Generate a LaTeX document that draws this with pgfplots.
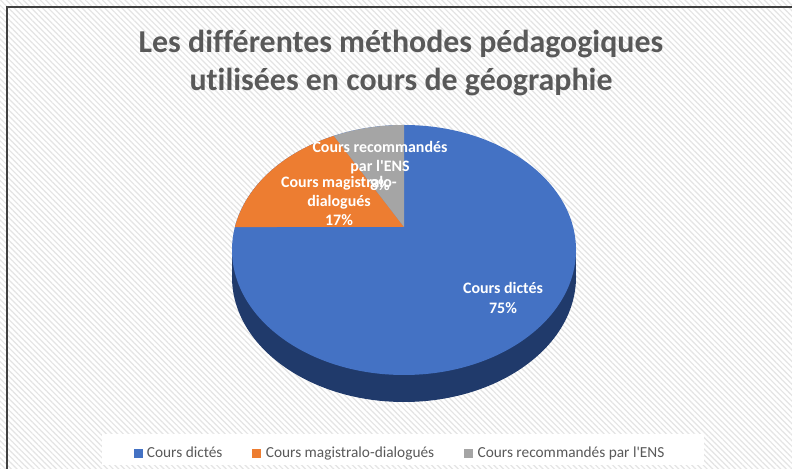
\documentclass[border=0pt]{standalone}
\usepackage{pgfplots}
\pgfplotsset{compat=1.18}
\usepackage{pgfplotstable}
\usepackage{fontspec}
\setmainfont{Carlito}[Ligatures=NoCommon]
\usetikzlibrary{patterns.meta}
\definecolor{cBlue}{HTML}{4472C4}
\definecolor{cOrange}{HTML}{ED7D31}
\definecolor{cGray}{HTML}{A5A5A5}
\definecolor{cSide}{HTML}{203A6B}
\definecolor{titlegray}{HTML}{595959}
\definecolor{bgstripe}{HTML}{E4E4E4}

\pgfplotstableread{
label value
dictes 75
magistralo 17
ens 8
}\piedata

% parametric angle on the projected (perspective) ellipse for a pie angle
\newcommand{\phiof}[2]{%
  \pgfmathsetmacro{\den}{1+0.184*sin(#1)}%
  \pgfmathsetmacro{\Xp}{169.1*cos(#1)/\den}%
  \pgfmathsetmacro{\Yp}{120.8*sin(#1)/\den}%
  \pgfmathsetmacro#2{atan2((\Yp+23)/125,\Xp/172)}}

\begin{document}
\begin{tikzpicture}[x=1bp,y=1bp]
\fill[white] (0,0) rectangle (792,469);
\fill[pattern={Lines[angle=-45,distance=4bp,line width=1.2bp]}, pattern color=bgstripe] (0,0) rectangle (792,469);
\useasboundingbox (0,0) rectangle (792,469);
\draw[line width=2bp, color=black!75] (7,0) -- (7,461.5) -- (792,461.5);
\fill[white] (102,4) rectangle (704,35);

\pgfplotstablegetelem{0}{value}\of\piedata \pgfmathsetmacro{\va}{\pgfplotsretval}
\pgfplotstablegetelem{1}{value}\of\piedata \pgfmathsetmacro{\vb}{\pgfplotsretval}
\pgfplotstablegetelem{2}{value}\of\piedata \pgfmathsetmacro{\vc}{\pgfplotsretval}
\pgfmathsetmacro{\tA}{90-3.6*\va}
\pgfmathsetmacro{\tB}{\tA-3.6*\vb}
\pgfmathsetmacro{\tC}{\tB-3.6*\vc}
\phiof{\tA}{\pa}
\phiof{\tB}{\pb}
\phiof{\tC}{\pc}

\node[font=\fontsize{32}{38}\selectfont\bfseries, text=titlegray] at (401,425) {Les différentes méthodes pédagogiques};
\node[font=\fontsize{32}{38}\selectfont\bfseries, text=titlegray] at (401,387) {utilisées en cours de géographie};

\begin{axis}[at={(0,0)}, anchor=south west, x=1bp, y=1bp,
  xmin=0, xmax=792, ymin=0, ymax=469, hide axis, clip=false,
  legend columns=-1,
  legend style={draw=none, fill=none, at={(0.505,0.034)}, anchor=center,
    font=\fontsize{15.4}{18}\selectfont, text=titlegray,
    /tikz/every even column/.append style={column sep=28bp}},
  ]
\fill[cSide] (axis cs:232,219) rectangle (axis cs:576,192);
\fill[cSide] (axis cs:404,192) ellipse [x radius=172, y radius=125];
\fill[cBlue] (axis cs:404,219) ellipse [x radius=172, y radius=125];
\fill[cOrange] (axis cs:404,242) -- (axis cs:{404+172*cos(\pa)},{219+125*sin(\pa)})
   arc[start angle=\pa, end angle=\pb, x radius=172, y radius=125] -- cycle;
\fill[cGray] (axis cs:404,242) -- (axis cs:{404+172*cos(\pb)},{219+125*sin(\pb)})
   arc[start angle=\pb, end angle=\pc, x radius=172, y radius=125] -- cycle;

\node[font=\fontsize{16}{20}\selectfont\bfseries, text=white, align=center] at (axis cs:503,171) {Cours dictés\\75\%};
\node[font=\fontsize{16}{19.5}\selectfont\bfseries, text=white, align=center] at (axis cs:339,268) {Cours magistralo-\\dialogués\\17\%};
\node[font=\fontsize{16}{19.5}\selectfont\bfseries, text=white, align=center] at (axis cs:380,303) {Cours recommandés\\par l\textquotesingle ENS\\8\%};

\addlegendimage{legend image code/.code={\fill[cBlue] (0bp,-4bp) rectangle (8bp,4bp); \path (11bp,0bp);}}
\addlegendentry{Cours dictés}
\addlegendimage{legend image code/.code={\fill[cOrange] (0bp,-4bp) rectangle (8bp,4bp); \path (11bp,0bp);}}
\addlegendentry{Cours magistralo-dialogués}
\addlegendimage{legend image code/.code={\fill[cGray] (0bp,-4bp) rectangle (8bp,4bp); \path (11bp,0bp);}}
\addlegendentry{Cours recommandés par l\textquotesingle ENS}
\end{axis}
\end{tikzpicture}
\end{document}
